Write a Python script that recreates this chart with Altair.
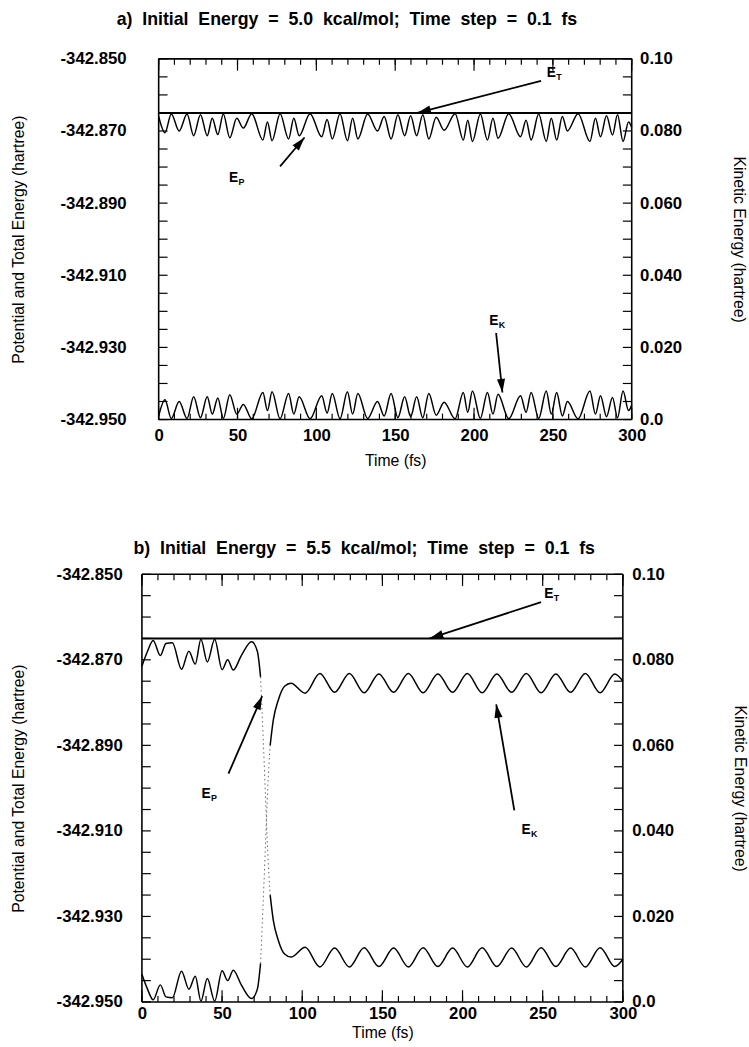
import math
import altair as alt
import pandas as pd

# ---------------- data ----------------
# Panel a : initial energy 5.0 kcal/mol
t_a = [0, 4, 8, 13, 18, 22.2, 26.5, 30.8, 34, 37.5, 41, 45.1, 49.5, 53.7, 59,
       66.1, 69, 71.9, 77, 82.4, 85.7, 89.1, 96, 103.4, 106.8, 110.1, 115, 119.7,
       123, 126.3, 132.5, 138.8, 143, 147.4, 151.7, 156, 159.8, 163.6, 167.5,
       171.3, 176, 181, 188, 193.2, 196, 199, 204, 208.5, 212, 215.2, 222, 229.5,
       233, 236.2, 241, 245.8, 249, 252.4, 256, 259.2, 266, 273.5, 277, 280.2,
       284, 287.8, 291, 294.5, 298, 300]
ek_a = [0.0010, 0.0055, 0.0003, 0.0050, 0.0003, 0.0063, 0.0005, 0.0063, 0.0015,
        0.0060, 0.0003, 0.0069, 0.0015, 0.0042, 0.0002, 0.0075, 0.0025, 0.0077,
        0.0002, 0.0072, 0.0015, 0.0063, 0.0002, 0.0066, 0.0018, 0.0072, 0.0002,
        0.0077, 0.0015, 0.0072, 0.0003, 0.0050, 0.0010, 0.0072, 0.0005, 0.0063,
        0.0008, 0.0063, 0.0005, 0.0072, 0.0012, 0.0048, 0.0002, 0.0075, 0.0020,
        0.0079, 0.0003, 0.0075, 0.0015, 0.0070, 0.0002, 0.0066, 0.0020, 0.0075,
        0.0003, 0.0079, 0.0015, 0.0075, 0.0010, 0.0050, 0.0002, 0.0079, 0.0015,
        0.0066, 0.0008, 0.0061, 0.0005, 0.0079, 0.0025, 0.0040]
ep_a = [-342.8660, -342.8705, -342.8653, -342.8700, -342.8653,
        -342.8713, -342.8655, -342.8713, -342.8665, -342.8710,
        -342.8653, -342.8719, -342.8665, -342.8692, -342.8652,
        -342.8725, -342.8675, -342.8727, -342.8652, -342.8722,
        -342.8665, -342.8713, -342.8652, -342.8716, -342.8668,
        -342.8722, -342.8652, -342.8727, -342.8665, -342.8722,
        -342.8653, -342.8700, -342.8660, -342.8722, -342.8655,
        -342.8713, -342.8658, -342.8713, -342.8655, -342.8722,
        -342.8662, -342.8698, -342.8652, -342.8725, -342.8670,
        -342.8729, -342.8653, -342.8725, -342.8665, -342.8720,
        -342.8652, -342.8716, -342.8670, -342.8725, -342.8653,
        -342.8729, -342.8665, -342.8725, -342.8660, -342.8700,
        -342.8652, -342.8729, -342.8665, -342.8716, -342.8658,
        -342.8711, -342.8655, -342.8729, -342.8675, -342.8690]
et_a = -342.865

# Panel b : initial energy 5.5 kcal/mol
t_b = [0, 3.5, 7, 11.5, 15, 19, 24.7, 29.3, 33.3, 36.8, 40.8, 45.4, 50, 53.5, 57,
       62, 68.4, 72, 74, 75.5, 77, 78.5, 80, 82, 85, 89, 93, 101.8, 111, 120.2,
       129.4, 138.6, 147.8, 157, 166.2, 175.4, 184.6, 193.8, 203, 212.2, 221.4,
       230.6, 239.8, 249, 258.2, 267.4, 276.6, 285.8, 295, 300]
ek_b = [0.0065, 0.0030, 0.0005, 0.0040, 0.0012,
        0.0010, 0.0072, 0.0030, 0.0060, 0.0002,
        0.0055, 0.0002, 0.0073, 0.0050, 0.0074,
        0.0040, 0.0008, 0.0030, 0.0090, 0.0220,
        0.0360, 0.0500, 0.0600, 0.0660, 0.0705,
        0.0738, 0.0745, 0.0722, 0.0768, 0.0724,
        0.0768, 0.0723, 0.0767, 0.0724, 0.0768,
        0.0723, 0.0767, 0.0724, 0.0768, 0.0723,
        0.0767, 0.0724, 0.0768, 0.0723, 0.0767,
        0.0724, 0.0768, 0.0723, 0.0767, 0.0750]
ep_b = [-342.8715, -342.8680, -342.8655, -342.8690, -342.8662,
        -342.8660, -342.8722, -342.8680, -342.8710, -342.8652,
        -342.8705, -342.8652, -342.8723, -342.8700, -342.8724,
        -342.8690, -342.8658, -342.8680, -342.8740, -342.8870,
        -342.9010, -342.9150, -342.9250, -342.9310, -342.9355,
        -342.9388, -342.9395, -342.9372, -342.9418, -342.9374,
        -342.9418, -342.9373, -342.9417, -342.9374, -342.9418,
        -342.9373, -342.9417, -342.9374, -342.9418, -342.9373,
        -342.9417, -342.9374, -342.9418, -342.9373, -342.9417,
        -342.9374, -342.9418, -342.9373, -342.9417, -342.9400]
et_b = -342.865
fast_b = [74, 80]   # time window drawn as a faint dotted trace

# axis ticks and labels
x_labels = [0, 50, 100, 150, 200, 250, 300]
x_ticks = [0, 10, 20, 30, 40, 50, 60, 70, 80, 90, 100, 110, 120, 130, 140, 150,
           160, 170, 180, 190, 200, 210, 220, 230, 240, 250, 260, 270, 280, 290, 300]
left_labels = [-342.95, -342.93, -342.91, -342.89, -342.87, -342.85]
left_ticks = [-342.950, -342.945, -342.940, -342.935, -342.930, -342.925, -342.920,
              -342.915, -342.910, -342.905, -342.900, -342.895, -342.890, -342.885,
              -342.880, -342.875, -342.870, -342.865, -342.860, -342.855, -342.850]
right_labels = [0.0, 0.02, 0.04, 0.06, 0.08, 0.10]
right_ticks = [0.000, 0.005, 0.010, 0.015, 0.020, 0.025, 0.030, 0.035, 0.040, 0.045,
               0.050, 0.055, 0.060, 0.065, 0.070, 0.075, 0.080, 0.085, 0.090, 0.095, 0.100]

# annotations (arrows given in left-axis units: tail t1,v1 -> tip t2,v2)
arrow_a = {"t1": [242.5, 77, 214], "v1": [-342.8561, -342.8798, -342.9260],
           "t2": [164, 92.5, 218], "v2": [-342.8650, -342.8718, -342.9425]}
label_a = {"t": [249, 47.5, 212.5], "v": [-342.8539, -342.8831, -342.9227],
           "main": ["E", "E", "E"], "sub": ["T", "P", "K"]}
arrow_b = {"t1": [249, 54, 232.3], "v1": [-342.8565, -342.8966, -342.9052],
           "t2": [179.5, 75, 221], "v2": [-342.8650, -342.8785, -342.8804]}
label_b = {"t": [253.8, 40, 239.7], "v": [-342.8546, -342.9013, -342.9099],
           "main": ["E", "E", "E"], "sub": ["T", "P", "K"]}

title_a = "a)\u00a0 Initial\u00a0 Energy\u00a0 =\u00a0 5.0\u00a0 kcal/mol;\u00a0 Time\u00a0 step\u00a0 =\u00a0 0.1\u00a0 fs"
title_b = "b)\u00a0 Initial\u00a0 Energy\u00a0 =\u00a0 5.5\u00a0 kcal/mol;\u00a0 Time\u00a0 step\u00a0 =\u00a0 0.1\u00a0 fs"

# ---------------- styling ----------------
FONT = "Liberation Sans"
LAB = 17
TIT = 16

LS = alt.Scale(domain=[-342.95, -342.85], nice=False, zero=False)
RS = alt.Scale(domain=[0, 0.1], nice=False, zero=False)

common_axis = dict(ticks=False, domain=False, grid=False, labelFont=FONT,
                   labelFontSize=LAB, labelFontWeight="bold", labelColor="black",
                   titleFont=FONT, titleFontSize=TIT, titleFontWeight="normal",
                   titleColor="black")

HEAD = "M0,0 L0.6,2 L-0.6,2 Z"


def arrow_angles(arr, Wpx, H):
    out = []
    for t1, v1, t2, v2 in zip(arr["t1"], arr["v1"], arr["t2"], arr["v2"]):
        dx = (t2 - t1) * Wpx / 300.0
        dy = -(v2 - v1) * H / 0.1
        out.append(math.degrees(math.atan2(dx, -dy)) % 360)
    return out


def panel(t, ek, ep, et, W, H, xo, title, title_offset, title_dx, arrows, labels,
          lay, fast=None):
    # xo: pixel position of t = 0 relative to the panel origin (frame drawn by hand)
    XS = alt.Scale(domain=[0, 300], range=[xo, W], nice=False, zero=False)
    x_axis = alt.Axis(values=x_labels, format="d", title="Time (fs)",
                      labelPadding=lay["xlp"], titlePadding=lay["xtp"],
                      labelFlush=False, **common_axis)
    l_axis = alt.Axis(values=left_labels, offset=-xo,
                      labelExpr="'-' + format(abs(datum.value), '.3f')",
                      title="Potential and Total Energy (hartree)",
                      labelPadding=lay["llp"], titlePadding=lay["ltp"], **common_axis)
    r_axis = alt.Axis(orient="right", values=right_labels,
                      labelExpr="datum.value == 0 ? '0.0' : (datum.value > 0.099 ? '0.10' : format(datum.value, '.3f'))",
                      title="Kinetic Energy (hartree)", labelPadding=lay["rlp"],
                      titlePadding=lay["rtp"], **common_axis)

    def X(f):
        return alt.X(f, scale=XS, axis=x_axis)

    def YL(f):
        return alt.Y(f, scale=LS, axis=l_axis)

    def YR(f):
        return alt.Y(f, scale=RS, axis=r_axis)

    df = pd.DataFrame({"t": t, "ek": ek, "ep": ep})
    base = alt.Chart(df)

    def line(field, yfun, flt=None, dotted=False):
        ch = base
        if flt is not None:
            ch = ch.transform_filter(flt)
        if dotted:
            mk = ch.mark_line(color="black", strokeWidth=1.0, strokeDash=[1.5, 3],
                              interpolate="monotone", opacity=0.6)
        else:
            mk = ch.mark_line(color="black", strokeWidth=1.5, interpolate="monotone")
        return mk.encode(x=X("t:Q"), y=yfun(f"{field}:Q"))

    if fast is None:
        ep_layers = [line("ep", YL)]
        ek_layers = [line("ek", YR)]
    else:
        a0, a1 = fast
        pre = f"datum.t <= {a0}"
        mid = f"datum.t >= {a0} && datum.t <= {a1}"
        post = f"datum.t >= {a1}"
        ep_layers = [line("ep", YL, pre), line("ep", YL, mid, True), line("ep", YL, post)]
        ek_layers = [line("ek", YR, pre), line("ek", YR, mid, True), line("ek", YR, post)]

    et_rule = alt.Chart(pd.DataFrame({"v": [et]})).mark_rule(
        color="black", strokeWidth=2).encode(
        y=YL("v:Q"), x=alt.value(xo), x2=alt.value(W))

    one = pd.DataFrame({"k": [0]})
    frame = [
        alt.Chart(one).mark_rule(color="black", strokeWidth=1.6).encode(
            x=alt.value(xo), x2=alt.value(W), y=alt.value(0)),
        alt.Chart(one).mark_rule(color="black", strokeWidth=1.6).encode(
            x=alt.value(xo), x2=alt.value(W), y=alt.value(H)),
        alt.Chart(one).mark_rule(color="black", strokeWidth=1.6).encode(
            x=alt.value(xo), y=alt.value(0), y2=alt.value(H)),
        alt.Chart(one).mark_rule(color="black", strokeWidth=1.6).encode(
            x=alt.value(W), y=alt.value(0), y2=alt.value(H)),
    ]

    xt = pd.DataFrame({"t": x_ticks})
    xm = pd.DataFrame({"t": x_labels})

    def xtick(d, y0, y1):
        return alt.Chart(d).mark_rule(color="black", strokeWidth=1.2).encode(
            x=X("t:Q"), y=alt.value(y0), y2=alt.value(y1))
    ticks_x = [xtick(xt, 0, 6), xtick(xm, 0, 12), xtick(xt, H, H - 6), xtick(xm, H, H - 12)]

    lt = alt.Chart(pd.DataFrame({"v": left_ticks})).mark_rule(
        color="black", strokeWidth=1.2).encode(
        y=YL("v:Q"), x=alt.value(xo), x2=alt.value(xo + 9))
    rt = alt.Chart(pd.DataFrame({"v": right_ticks})).mark_rule(
        color="black", strokeWidth=1.2).encode(
        y=YR("v:Q"), x=alt.value(W), x2=alt.value(W - 9))

    adf = pd.DataFrame(arrows)
    adf["ang"] = arrow_angles(arrows, W - xo, H)
    shafts = alt.Chart(adf).mark_rule(color="black", strokeWidth=1.8).encode(
        x=X("t1:Q"), y=YL("v1:Q"), x2="t2:Q", y2="v2:Q")
    heads = alt.Chart(adf).mark_point(shape=HEAD, filled=True, color="black",
                                      opacity=1, size=190, strokeWidth=0).encode(
        x=X("t2:Q"), y=YL("v2:Q"), angle=alt.Angle("ang:Q", scale=None))

    ldf = pd.DataFrame(labels)
    l_main = alt.Chart(ldf).mark_text(font=FONT, fontSize=14, fontWeight="bold",
                                      color="black", align="center", baseline="middle").encode(
        x=X("t:Q"), y=YL("v:Q"), text="main:N")
    l_sub = alt.Chart(ldf).mark_text(font=FONT, fontSize=9, fontWeight="bold",
                                     color="black", align="left", baseline="middle",
                                     dx=5, dy=4).encode(
        x=X("t:Q"), y=YL("v:Q"), text="sub:N")

    left = alt.layer(*ep_layers, et_rule, lt, *ticks_x, *frame, shafts, heads,
                     l_main, l_sub)
    right = alt.layer(*ek_layers, rt)
    return alt.layer(left, right).resolve_scale(y="independent").properties(
        width=W, height=H,
        title=alt.TitleParams(title, font=FONT, fontSize=18, fontWeight="bold",
                              color="black", anchor="middle", offset=title_offset,
                              dx=title_dx))


lay_a = {"xlp": 8, "xtp": 10, "llp": 33, "ltp": 34, "rlp": 8, "rtp": 50}
lay_b = {"xlp": 4, "xtp": 3, "llp": 20, "ltp": 30, "rlp": 9, "rtp": 59}

pa = panel(t_a, ek_a, ep_a, et_a, 480, 366, 0, title_a, 21, -49, arrow_a, label_a, lay_a)
pb = panel(t_b, ek_b, ep_b, et_b, 471, 434, -17, title_b, 8, -27, arrow_b, label_b,
           lay_b, fast=fast_b)

chart = alt.vconcat(pa, pb, spacing=70).properties(
    padding={"left": 10, "top": 3, "right": 0, "bottom": 0},
    background="white",
).configure_view(stroke="transparent")

chart.save("out.html", embed_options={"renderer": "svg", "actions": False})
